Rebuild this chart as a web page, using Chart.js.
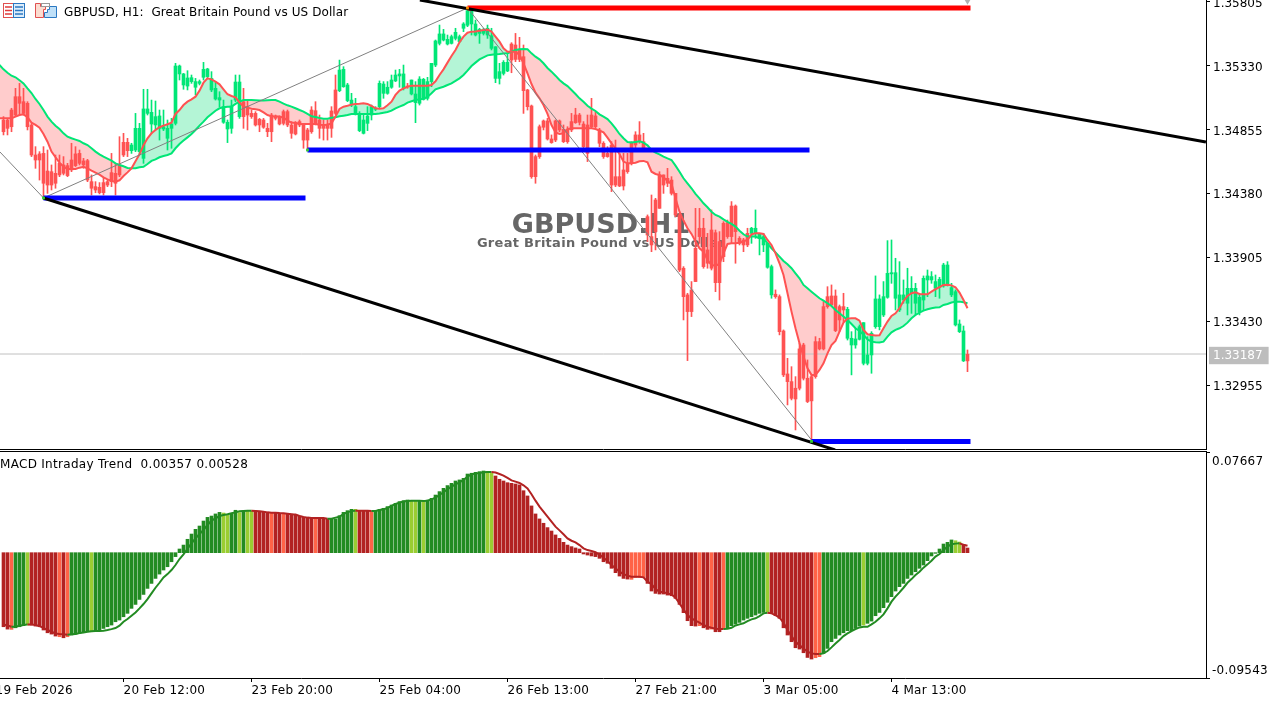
<!DOCTYPE html>
<html><head><meta charset="utf-8">
<script src="https://cdn.jsdelivr.net/npm/chart.js@4/dist/chart.umd.js"></script>
<style>
html,body{margin:0;padding:0;background:#fff;width:1282px;height:702px;overflow:hidden}
canvas{position:absolute;left:0;z-index:2}
.t{position:absolute;white-space:pre;font-family:"DejaVu Sans",sans-serif;color:#000}
#title{left:64px;top:4px;font-size:12px;line-height:16px;letter-spacing:0.08px;z-index:3}
#sub{left:0;top:456px;font-size:12px;line-height:16px;letter-spacing:0.3px;z-index:3}
#sep{position:absolute;left:0;top:451px;width:1207px;height:1px;background:#000;z-index:3}
svg{position:absolute;z-index:3}
</style></head><body>
<svg style="left:0;top:0" width="62" height="22">
<rect x="3.5" y="3.5" width="10" height="14" fill="#fff" stroke="#e05050"/><rect x="13.5" y="3.5" width="11" height="14" fill="#dcecfa" stroke="#2b78c2"/>
<path d="M5 7h7M5 10.500h7M5 14h7" stroke="#e03c3c" stroke-width="1.500"/><path d="M15 7h8M15 10.500h8M15 14h8" stroke="#2b78c2" stroke-width="1.500"/>
<path d="M35.500 3.500h5v3h5v3h-2v8h-8z" fill="#fbdcd0" stroke="#e05050"/><path d="M47.500 9.500h2v-3h7v11h-12v-5h3z" fill="#bfe0f8" stroke="#2b78c2"/><rect x="41.500" y="3.500" width="8" height="3" fill="#fff" stroke="#999"/>
</svg>
<div id="title" class="t">GBPUSD, H1:  Great Britain Pound vs US Dollar</div>
<div id="sub" class="t">MACD Intraday Trend  0.00357 0.00528</div>
<div id="sep"></div>
<canvas id="priceChart" width="1282" height="450" style="top:0"></canvas>
<canvas id="macdChart" width="1282" height="250" style="top:452px"></canvas>
<script>
const opens=[1.34925,1.34925,1.34999,1.35098,1.35098,1.35061,1.35049,1.34888,1.34665,1.34673,1.34677,1.34546,1.34541,1.34529,1.34603,1.34591,1.34586,1.34628,1.34673,1.34677,1.34621,1.34623,1.34467,1.34430,1.34425,1.34460,1.34467,1.34534,1.34529,1.34591,1.34759,1.34759,
1.34697,1.34702,1.34690,1.34640,1.34974,1.34895,1.34888,1.34863,1.34858,1.34789,1.34863,1.34900,1.35267,1.35185,1.35177,1.35210,1.35168,1.35197,1.35242,1.35247,1.35148,1.35081,1.35073,1.34908,1.34858,1.34863,1.35073,1.34950,
1.35061,1.35024,1.34974,1.34974,1.34930,1.34925,1.34863,1.34962,1.34955,1.34945,1.34987,1.34987,1.34888,1.34900,1.34913,1.34888,1.34851,1.34999,1.34994,1.34925,1.34888,1.34895,1.34992,1.35148,
1.35143,1.35172,1.35069,1.35036,1.34970,1.34846,1.34826,1.34900,1.34962,1.35004,1.35024,1.35123,1.35123,1.35168,1.35215,1.35252,1.35160,1.35177,1.35118,1.35054,1.35049,1.35078,1.35086,1.35210,1.35333,1.35494,1.35519,1.35489,1.35494,1.35531,1.35507,1.35606,1.35628,1.35638,1.35556,1.35568,1.35568,1.35556,1.35457,1.35234,1.35234,1.35271,1.35289,
1.35489,1.35482,1.35445,1.35395,1.35148,1.35029,1.34653,1.34875,1.34918,1.34918,1.34784,1.34918,1.34918,1.34856,1.34856,1.34913,1.34962,1.34962,1.34895,1.34888,1.34962,1.34955,1.34851,1.34752,1.34677,1.34739,1.34504,1.34504,1.34554,1.34603,1.34752,1.34814,1.34814,1.34764,
1.34207,1.34059,1.34331,1.34517,1.34517,1.34492,1.34479,1.34380,1.34220,1.33824,1.33626,1.33663,1.33972,1.34121,1.34121,1.33960,1.34108,1.34088,1.34022,1.34158,1.34163,1.34286,1.34286,1.34046,1.34034,1.34083,
1.34083,1.34083,1.34046,1.33997,1.33831,1.33626,1.33631,1.33613,1.33358,1.33039,1.32982,1.32933,1.33225,1.33254,1.33007,1.33019,1.33279,1.33279,1.33539,1.33613,1.33618,1.33618,1.33539,1.33539,
1.33304,1.33254,1.33254,1.33296,1.33118,1.33118,1.33180,1.33390,1.33390,1.33477,1.33608,1.33782,1.33601,1.33514,1.33588,1.33564,1.33638,1.33564,1.33502,1.33588,1.33737,1.33737,1.33675,1.33683,1.33692,1.33700,1.33626,1.33403,1.33353,1.33136,1.33185];
const closes=[1.34838,1.34863,1.34875,1.34962,1.35049,1.34974,1.34875,1.34665,1.34628,1.34628,1.34455,1.34442,1.34442,1.34455,1.34517,1.34529,1.34512,1.34554,1.34586,1.34603,1.34591,1.34479,1.34418,1.34405,1.34385,1.34385,1.34442,1.34467,1.34455,1.34517,1.34665,1.34697,
1.34739,1.34863,1.34863,1.35007,1.35007,1.34982,1.34950,1.34955,1.34875,1.34863,1.34895,1.35326,1.35326,1.35267,1.35237,1.35239,1.35210,1.35210,1.35301,1.35304,1.35234,1.35160,1.35091,1.35024,1.34908,1.35029,1.35207,1.35207,
1.34950,1.34962,1.34950,1.34888,1.34888,1.34871,1.34838,1.34838,1.34937,1.34895,1.34900,1.34888,1.34826,1.34821,1.34888,1.34776,1.34776,1.34838,1.34895,1.34863,1.34863,1.34863,1.34863,1.34974,
1.35296,1.35301,1.35185,1.35073,1.35024,1.34974,1.34925,1.34955,1.35024,1.35012,1.35197,1.35192,1.35168,1.35222,1.35259,1.35267,1.35267,1.35172,1.35222,1.35118,1.35229,1.35227,1.35210,1.35346,1.35512,1.35564,1.35564,1.35524,1.35544,1.35576,1.35544,1.35638,1.35737,1.35742,1.35638,1.35598,1.35593,1.35606,1.35551,1.35469,1.35284,1.35353,1.35353,
1.35370,1.35375,1.35375,1.35143,1.35024,1.34504,1.34504,1.34653,1.34871,1.34784,1.34757,1.34776,1.34851,1.34764,1.34764,1.34851,1.34905,1.34908,1.34727,1.34677,1.34875,1.34875,1.34752,1.34653,1.34653,1.34442,1.34442,1.34435,1.34435,1.34541,1.34603,1.34739,1.34764,1.34715,
1.34071,1.33997,1.34096,1.34269,1.34442,1.34455,1.34380,1.34220,1.33811,1.33613,1.33502,1.33502,1.33725,1.34059,1.33836,1.33861,1.33824,1.33717,1.33717,1.33910,1.34059,1.34059,1.34096,1.34009,1.33997,1.33997,
1.34121,1.34121,1.34083,1.34059,1.34009,1.33836,1.33613,1.33353,1.33032,1.32982,1.32858,1.32853,1.32933,1.33007,1.32834,1.32839,1.33019,1.33225,1.33225,1.33539,1.33551,1.33361,1.33440,1.33514,
1.33519,1.33304,1.33299,1.33390,1.33420,1.33180,1.33341,1.33596,1.33596,1.33613,1.33786,1.33791,1.33791,1.33626,1.33626,1.33675,1.33675,1.33675,1.33608,1.33749,1.33767,1.33762,1.33725,1.33742,1.33848,1.33848,1.33680,1.33650,1.33410,1.33358,1.33136];
const highs=[1.34950,1.34937,1.35012,1.35160,1.35197,1.35160,1.35061,1.34900,1.34727,1.34690,1.34727,1.34702,1.34591,1.34665,1.34665,1.34653,1.34603,1.34752,1.34727,1.34702,1.34640,1.34633,1.34517,1.34467,1.34460,1.34492,1.34479,1.34677,1.34603,1.34801,1.34826,1.34789,
1.34752,1.34974,1.34900,1.35153,1.35153,1.35073,1.35066,1.34999,1.34999,1.34925,1.34937,1.35346,1.35333,1.35271,1.35291,1.35259,1.35234,1.35222,1.35353,1.35309,1.35284,1.35210,1.35135,1.35073,1.34925,1.35073,1.35259,1.35259,
1.35160,1.35073,1.34999,1.34987,1.34937,1.34937,1.34900,1.34974,1.34962,1.34955,1.34999,1.34999,1.34913,1.34913,1.34925,1.34900,1.34863,1.35024,1.35061,1.34962,1.34925,1.34925,1.35024,1.35259,
1.35370,1.35321,1.35197,1.35123,1.35086,1.34987,1.34962,1.35024,1.35036,1.35024,1.35215,1.35210,1.35210,1.35259,1.35296,1.35301,1.35333,1.35197,1.35222,1.35210,1.35247,1.35234,1.35242,1.35346,1.35519,1.35630,1.35598,1.35556,1.35556,1.35606,1.35556,1.35648,1.35757,1.35754,1.35667,1.35606,1.35606,1.35630,1.35606,1.35469,1.35346,1.35366,1.35420,
1.35499,1.35568,1.35539,1.35482,1.35153,1.35036,1.34665,1.34888,1.34925,1.34937,1.34814,1.34925,1.34925,1.34888,1.34875,1.34974,1.35012,1.34974,1.34913,1.34962,1.35086,1.34987,1.34863,1.34764,1.34727,1.34764,1.34776,1.34677,1.34677,1.34677,1.34764,1.34838,1.34913,1.34826,
1.34220,1.34368,1.34343,1.34541,1.34517,1.34566,1.34504,1.34380,1.34232,1.33836,1.33638,1.33725,1.34269,1.34269,1.34195,1.34083,1.34257,1.34108,1.34096,1.34170,1.34182,1.34319,1.34294,1.34059,1.34046,1.34121,
1.34128,1.34257,1.34083,1.34083,1.34009,1.33848,1.33663,1.33626,1.33366,1.33155,1.33093,1.33019,1.33267,1.33267,1.33143,1.33032,1.33316,1.33304,1.33576,1.33687,1.33700,1.33663,1.33551,1.33638,
1.33534,1.33353,1.33378,1.33403,1.33420,1.33316,1.33353,1.33767,1.33626,1.33725,1.34029,1.34034,1.33898,1.33873,1.33737,1.33824,1.33762,1.33712,1.33638,1.33767,1.33811,1.33799,1.33774,1.33757,1.33861,1.33873,1.33712,1.33663,1.33440,1.33395,1.33217];
const lows=[1.34814,1.34814,1.34838,1.34950,1.34962,1.34962,1.34851,1.34653,1.34566,1.34479,1.34356,1.34380,1.34405,1.34418,1.34504,1.34517,1.34504,1.34541,1.34579,1.34591,1.34566,1.34467,1.34368,1.34385,1.34376,1.34368,1.34430,1.34430,1.34368,1.34504,1.34653,1.34653,
1.34677,1.34690,1.34665,1.34603,1.34962,1.34826,1.34851,1.34776,1.34846,1.34702,1.34715,1.34888,1.35222,1.35153,1.35148,1.35197,1.35111,1.35185,1.35222,1.35234,1.35135,1.35073,1.35024,1.34900,1.34757,1.34826,1.35061,1.34937,
1.34863,1.34851,1.34937,1.34880,1.34838,1.34863,1.34801,1.34764,1.34925,1.34888,1.34888,1.34875,1.34789,1.34814,1.34875,1.34715,1.34702,1.34826,1.34888,1.34789,1.34776,1.34776,1.34796,1.34962,
1.35135,1.35168,1.35061,1.35024,1.34962,1.34838,1.34821,1.34846,1.34925,1.34994,1.35012,1.35086,1.35116,1.35160,1.35210,1.35168,1.35148,1.35160,1.35111,1.34905,1.35036,1.35073,1.35073,1.35172,1.35321,1.35482,1.35512,1.35482,1.35489,1.35519,1.35499,1.35581,1.35618,1.35556,1.35549,1.35494,1.35556,1.35531,1.35445,1.35202,1.35192,1.35259,1.35284,
1.35276,1.35358,1.35358,1.34974,1.34999,1.34492,1.34455,1.34640,1.34851,1.34776,1.34752,1.34764,1.34838,1.34757,1.34752,1.34838,1.34900,1.34888,1.34690,1.34616,1.34863,1.34863,1.34727,1.34640,1.34648,1.34393,1.34430,1.34430,1.34405,1.34529,1.34591,1.34702,1.34752,1.34702,
1.34022,1.33947,1.33960,1.34269,1.34380,1.34430,1.34368,1.34207,1.33799,1.33440,1.33138,1.33465,1.33725,1.34009,1.33824,1.33824,1.33811,1.33650,1.33588,1.33873,1.34046,1.34009,1.33861,1.33997,1.33947,1.33984,
1.34009,1.34046,1.33923,1.33947,1.33824,1.33601,1.33601,1.33329,1.33019,1.32809,1.32846,1.32623,1.32920,1.32994,1.32826,1.32549,1.33007,1.33217,1.33217,1.33527,1.33544,1.33353,1.33353,1.33428,
1.33291,1.33032,1.33230,1.33291,1.33106,1.33106,1.33044,1.33378,1.33366,1.33465,1.33601,1.33712,1.33514,1.33502,1.33564,1.33477,1.33489,1.33477,1.33477,1.33514,1.33613,1.33712,1.33613,1.33601,1.33683,1.33692,1.33613,1.33395,1.33346,1.33131,1.33056];
const fastLine=[1.34937,1.34937,1.34937,1.34950,1.34962,1.34967,1.34945,1.34905,1.34888,1.34868,1.34821,1.34764,1.34690,1.34648,1.34608,1.34578,1.34561,1.34561,1.34561,1.34571,1.34578,1.34566,1.34549,1.34534,1.34519,1.34499,1.34484,1.34472,1.34467,1.34477,1.34509,1.34536,1.34566,1.34618,1.34670,1.34737,1.34789,1.34826,1.34851,1.34871,1.34883,1.34893,1.34905,1.34970,1.34999,1.35036,1.35061,1.35078,1.35098,1.35143,1.35202,1.35234,1.35227,1.35210,1.35190,1.35153,1.35116,1.35103,1.35093,1.35056,1.35024,1.35017,1.35009,1.35004,1.34999,1.34982,1.34962,1.34952,1.34950,1.34950,1.34942,1.34920,1.34905,1.34905,1.34895,1.34895,1.34895,1.34895,1.34895,1.34890,1.34888,1.34890,
1.34900,1.34950,1.35007,1.35024,1.35031,1.35039,1.35044,1.35046,1.35049,1.35044,1.35029,1.35012,1.35009,1.35012,1.35034,1.35061,1.35111,1.35143,1.35160,1.35172,1.35180,1.35180,1.35180,1.35180,1.35180,1.35185,1.35212,1.35259,1.35301,1.35351,1.35400,1.35445,1.35502,1.35544,1.35573,1.35581,1.35583,1.35588,1.35593,1.35596,1.35581,1.35544,1.35507,1.35457,1.35432,1.35432,1.35432,1.35408,1.35346,1.35271,1.35192,1.35128,1.35086,1.35036,1.34970,1.34888,1.34833,1.34821,1.34826,1.34856,1.34863,1.34863,1.34863,1.34863,1.34863,1.34863,1.34858,1.34846,1.34833,1.34794,1.34752,1.34715,1.34673,1.34616,1.34603,1.34603,1.34608,1.34618,1.34621,1.34611,
1.34541,1.34524,1.34517,1.34499,1.34472,1.34450,1.34343,1.34244,1.34178,1.34121,1.34079,1.34022,1.33972,1.33947,1.33885,1.33848,1.33843,1.33856,1.33935,1.34004,1.34009,1.34009,1.34014,1.34024,1.34034,1.34076,1.34083,1.34083,1.34079,1.34034,1.33997,1.33935,1.33861,1.33774,1.33638,1.33502,1.33378,1.33267,1.33168,1.33081,1.33032,1.33032,1.33069,1.33118,1.33192,1.33254,1.33284,1.33353,1.33420,1.33450,1.33452,1.33452,1.33435,1.33366,1.33334,1.33329,1.33324,1.33326,1.33378,1.33428,1.33470,1.33489,1.33527,1.33581,1.33618,1.33638,1.33645,1.33633,1.33631,1.33631,1.33650,1.33668,1.33683,1.33700,1.33702,1.33697,1.33683,1.33643,1.33588,1.33527];
const slowLine=[1.35301,1.35276,1.35254,1.35242,1.35220,1.35197,1.35160,1.35125,1.35081,1.35044,1.34999,1.34950,1.34913,1.34883,1.34858,1.34826,1.34801,1.34789,1.34779,1.34769,1.34752,1.34739,1.34715,1.34690,1.34670,1.34653,1.34638,1.34623,1.34603,1.34591,1.34581,1.34569,1.34566,1.34566,1.34574,1.34578,1.34598,1.34621,1.34633,1.34648,1.34658,1.34665,1.34677,1.34715,1.34747,1.34772,1.34796,1.34821,1.34851,1.34883,1.34913,1.34945,1.34970,1.34994,1.35012,1.35019,1.35024,1.35024,1.35044,1.35061,1.35073,1.35073,1.35073,1.35071,1.35069,1.35069,1.35071,1.35073,1.35073,1.35061,1.35046,1.35034,1.35024,1.35012,1.34999,1.34987,1.34970,1.34952,1.34947,1.34940,1.34935,1.34935,
1.34942,1.34945,1.34952,1.34957,1.34962,1.34970,1.34970,1.34970,1.34970,1.34970,1.34970,1.34970,1.34974,1.34979,1.34984,1.34994,1.35012,1.35024,1.35036,1.35054,1.35064,1.35073,1.35078,1.35083,1.35096,1.35123,1.35153,1.35163,1.35172,1.35185,1.35197,1.35215,1.35234,1.35259,1.35291,1.35326,1.35351,1.35375,1.35390,1.35405,1.35410,1.35413,1.35415,1.35418,1.35420,1.35432,1.35445,1.35450,1.35452,1.35450,1.35420,1.35395,1.35375,1.35346,1.35311,1.35284,1.35254,1.35222,1.35197,1.35177,1.35148,1.35118,1.35086,1.35061,1.35031,1.35009,1.34992,1.34967,1.34950,1.34932,1.34900,1.34863,1.34821,1.34789,1.34762,1.34757,1.34762,1.34767,1.34757,1.34737,
1.34702,1.34682,1.34670,1.34653,1.34640,1.34628,1.34586,1.34541,1.34492,1.34455,1.34418,1.34376,1.34343,1.34306,1.34277,1.34244,1.34220,1.34207,1.34187,1.34168,1.34153,1.34133,1.34103,1.34076,1.34059,1.34059,1.34059,1.34046,1.34046,1.34009,1.33972,1.33942,1.33910,1.33878,1.33853,1.33824,1.33786,1.33749,1.33700,1.33675,1.33650,1.33626,1.33601,1.33584,1.33564,1.33544,1.33514,1.33489,1.33465,1.33440,1.33410,1.33378,1.33358,1.33329,1.33296,1.33279,1.33274,1.33272,1.33279,1.33316,1.33348,1.33366,1.33378,1.33395,1.33420,1.33452,1.33477,1.33494,1.33509,1.33519,1.33527,1.33532,1.33534,1.33551,1.33559,1.33569,1.33576,1.33576,1.33571,1.33564];
const fastLead=1.34937, slowLead=1.35333;
const histValues=[-.0564,-.0582,-.0584,-.0572,-.0564,-.0556,-.0551,-.0551,-.0559,-.0564,-.0589,-.0610,-.0620,-.0635,-.0640,-.0648,-.0640,-.0627,-.0620,-.0615,-.0607,-.0602,-.0602,-.0597,-.0589,-.0577,-.0564,-.0551,-.0526,-.0513,-.0488,-.0462,-.0424,-.0394,-.0356,-.0318,-.0272,-.0234,-.0196,-.0163,-.0132,-.0107,-.0069,-.0030,.0028,.0058,.0102,.0142,.0178,.0203,.0241,.0269,.0279,.0295,.0307,.0302,.0287,.0295,.0323,.0305,.0318,.0318,.0318,.0318,.0312,.0312,.0307,.0300,.0300,.0300,.0300,.0295,.0295,.0287,.0279,.0269,.0262,.0262,.0262,.0262,.0262,.0257,
.0257,.0257,.0282,.0307,.0320,.0330,.0330,.0320,.0318,.0318,.0318,.0320,.0330,.0338,.0351,.0363,.0376,.0389,.0396,.0401,.0396,.0396,.0396,.0394,.0401,.0414,.0439,.0465,.0490,.0511,.0528,.0546,.0554,.0566,.0599,.0605,.0612,.0617,.0622,.0617,.0605,.0584,.0559,.0546,.0533,.0528,.0523,.0516,.0472,.0432,.0356,.0295,.0257,.0224,.0191,.0165,.0135,.0109,.0079,.0058,.0046,.0036,.0028,-.0010,-.0018,-.0025,-.0030,-.0043,-.0069,-.0081,-.0119,-.0152,-.0178,-.0196,-.0201,-.0203,-.0188,-.0188,-.0188,-.0234,
-.0292,-.0310,-.0315,-.0315,-.0323,-.0328,-.0348,-.0394,-.0457,-.0518,-.0556,-.0559,-.0556,-.0572,-.0584,-.0582,-.0602,-.0602,-.0582,-.0577,-.0556,-.0544,-.0531,-.0513,-.0500,-.0488,-.0475,-.0462,-.0455,-.0450,-.0457,-.0480,-.0500,-.0572,-.0627,-.0678,-.0724,-.0734,-.0762,-.0798,-.0810,-.0800,-.0792,-.0767,-.0729,-.0678,-.0653,-.0627,-.0610,-.0594,-.0594,-.0577,-.0559,-.0551,-.0538,-.0521,-.0480,-.0455,-.0419,-.0378,-.0335,-.0292,-.0259,-.0234,-.0196,-.0170,-.0145,-.0119,-.0094,-.0061,-.0025,-.0005,.0028,.0066,.0079,.0097,.0091,.0081,.0061,.00357];
const signalValues=[-.0546,-.0554,-.0564,-.0564,-.0556,-.0551,-.0546,-.0546,-.0551,-.0559,-.0572,-.0589,-.0602,-.0615,-.0620,-.0622,-.0625,-.0622,-.0620,-.0612,-.0607,-.0602,-.0599,-.0597,-.0597,-.0594,-.0589,-.0582,-.0574,-.0556,-.0526,-.0505,-.0480,-.0455,-.0424,-.0391,-.0353,-.0310,-.0267,-.0229,-.0188,-.0163,-.0132,-.0094,-.0048,-.0013,.0030,.0071,.0109,.0142,.0173,.0211,.0244,.0262,.0279,.0287,.0292,.0300,.0307,.0315,.0318,.0320,.0320,.0318,.0315,.0312,.0307,.0305,.0305,.0302,.0300,.0297,.0292,.0290,.0279,.0272,.0267,.0264,.0264,.0264,.0264,.0259,
.0259,.0267,.0274,.0295,.0307,.0318,.0320,.0320,.0320,.0320,.0318,.0318,.0325,.0330,.0340,.0356,.0371,.0381,.0389,.0394,.0396,.0396,.0396,.0394,.0396,.0406,.0419,.0439,.0460,.0483,.0503,.0521,.0536,.0554,.0579,.0597,.0602,.0607,.0612,.0615,.0615,.0610,.0599,.0587,.0569,.0551,.0541,.0531,.0513,.0490,.0445,.0396,.0351,.0312,.0274,.0236,.0198,.0170,.0140,.0109,.0091,.0079,.0058,.0033,.0020,.0013,.0003,-.0015,-.0038,-.0064,-.0094,-.0119,-.0145,-.0163,-.0175,-.0183,-.0183,-.0183,-.0188,-.0221,
-.0239,-.0277,-.0297,-.0302,-.0310,-.0318,-.0343,-.0386,-.0432,-.0475,-.0500,-.0518,-.0533,-.0551,-.0564,-.0572,-.0579,-.0582,-.0582,-.0579,-.0572,-.0554,-.0546,-.0538,-.0521,-.0508,-.0500,-.0483,-.0462,-.0457,-.0462,-.0475,-.0495,-.0533,-.0589,-.0635,-.0678,-.0704,-.0729,-.0754,-.0767,-.0772,-.0772,-.0767,-.0749,-.0721,-.0691,-.0665,-.0635,-.0615,-.0597,-.0582,-.0569,-.0564,-.0564,-.0546,-.0526,-.0500,-.0470,-.0424,-.0373,-.0335,-.0302,-.0267,-.0229,-.0201,-.0170,-.0145,-.0114,-.0089,-.0061,-.0030,-.0010,.0020,.0046,.0064,.0069,.0071,.0061,.00528];
const histRuns=[['r',2],['o',1],['g',3],['y',1],['r',7],['o',1],['r',1],['o',1],['g',5],['y',1],['g',32],['y',2],['g',2],['y',1],['g',1],['y',2],['r',4],['o',1],['r',2],['o',1],['r',7],['o',1],['r',3],['g',6],['y',1],['r',3],['o',1],['g',9],['y',2],['g',1],['y',1],['g',15],['y',2],['r',34],['o',4],['r',13],['o',1],['r',2],['o',1],['r',2],['o',1],['g',10],['y',1],['r',11],['o',2],['g',10],['y',1],['g',22],['y',2],['r',2]];
const histPalette={g:'#228b22',y:'#9acd32',r:'#b22222',o:'#ff6347'};
const priceTicks=[1.35805,1.3533,1.34855,1.3438,1.33905,1.3343,1.32955];
const lastPrice=1.33187;
const macdTicks=[0.07667,-0.09543];
const timeBars=[-2,30,62,94,126,158,190,222];
const timeLabels=['19 Feb 2026','20 Feb 12:00','23 Feb 20:00','25 Feb 04:00','26 Feb 13:00','27 Feb 21:00','3 Mar 05:00','4 Mar 13:00'];
const zigzagBars=[-1,10,116,202], zigzagPrices=[1.34691,1.34346,1.35757,1.32549];
const upperTrendBars=[104.1,300.6], upperTrendPrices=[1.35816,1.34762];
const lowerTrendBars=[10,207.9], lowerTrendPrices=[1.34346,1.32475];
const levelSegments=[[10,75.5,1.34346,'#0000ff'],[76,201.5,1.34702,'#0000ff'],[202,241.75,1.32538,'#0000ff'],[116,241.75,1.35757,'#ff0000']];
const pivotBars=[10,76,202,116], pivotPrices=[1.34346,1.34702,1.32538,1.35757], pivotColors=['#33cc33','#33cc33','#33cc33','#ff8c00'];
const arrowBar=241, arrowPrice=1.35810;
const watermark='GBPUSD:H1', watermarkSub='Great Britain Pound vs US Dollar';

const histKinds=histRuns.flatMap(([k,c])=>Array(c).fill(k));
const UP='#00e676',DOWN='#ff5252';
const font={family:'"DejaVu Sans",sans-serif',size:12};
const candleColor=c=>closes[c.dataIndex]>=opens[c.dataIndex]?UP:DOWN;
const bars=[...opens.keys()];
const xRange={min:-0.875,max:300.625};
const noPad=s=>{s.paddingLeft=s.paddingRight=s.paddingTop=s.paddingBottom=0};
const seg=(xs,ys,color,width,order)=>({type:'line',data:xs.map((x,i)=>({x,y:ys[i]})),borderColor:color,borderWidth:width,pointRadius:0,tension:0,order,borderCapStyle:'butt',fill:false});

new Chart(document.getElementById('priceChart'),{
 plugins:[{id:'watermark',beforeDatasetsDraw(ch){const c=ch.ctx;c.save();c.fillStyle='#666';c.textAlign='center';c.textBaseline='middle';
   c.font='bold 27px "DejaVu Sans",sans-serif';c.fillText(watermark,601,225.5);
   c.font='bold 13px "DejaVu Sans",sans-serif';c.letterSpacing='0.28px';c.fillText(watermarkSub,601,244);c.restore();}}],
 data:{datasets:[
  {type:'line',label:'fast',data:[{x:-1,y:fastLead},...bars.map(i=>({x:i,y:fastLine[i]}))],borderColor:DOWN,borderWidth:2,pointRadius:0,order:5,
   fill:{target:1,above:'#b4f5d6',below:'#ffcccc'}},
  {type:'line',label:'slow',data:[{x:-1,y:slowLead},...bars.map(i=>({x:i,y:slowLine[i]}))],borderColor:UP,borderWidth:2,pointRadius:0,order:6,fill:false},
  {type:'bar',label:'wick',data:bars.map(i=>({x:i,y:[lows[i],highs[i]]})),backgroundColor:candleColor,barThickness:1,grouped:false,borderWidth:0,order:9},
  {type:'bar',label:'body',data:bars.map(i=>({x:i,y:[opens[i],closes[i]]})),backgroundColor:candleColor,barThickness:3,grouped:false,borderWidth:0,order:8},
  seg([-1,301],[lastPrice,lastPrice],'#c0c0c0',1,10),
  seg(zigzagBars,zigzagPrices,'#808080',1,3),
  ...levelSegments.map(s=>seg([s[0],s[1]],[s[2],s[2]],s[3],5,2)),
  seg(upperTrendBars,upperTrendPrices,'#000',3,1),
  seg(lowerTrendBars,lowerTrendPrices,'#000',3,1),
  {type:'scatter',data:pivotBars.map((x,i)=>({x,y:pivotPrices[i]})),backgroundColor:pivotColors,pointStyle:'rect',pointRadius:2,pointBorderWidth:0,order:0},
  {type:'scatter',data:[{x:arrowBar,y:arrowPrice}],backgroundColor:'#b0b0b0',pointStyle:'triangle',rotation:180,pointRadius:4,pointBorderWidth:0,order:0}
 ]},
 options:{responsive:false,animation:false,devicePixelRatio:1,layout:{padding:0,autoPadding:false},
  plugins:{legend:{display:false},tooltip:{enabled:false},filler:{drawTime:'beforeDatasetsDraw',propagate:false}},
  scales:{
   x:{type:'linear',...xRange,offset:false,grid:{display:false,offset:false},ticks:{display:false},border:{display:true,color:'#000'},afterFit:s=>{s.height=1;noPad(s)}},
   y:{type:'linear',position:'right',min:1.324816,max:1.358161,
    afterBuildTicks:s=>{s.ticks=[...priceTicks,lastPrice].map(value=>({value}))},
    afterFit:s=>{s.width=76;noPad(s)},
    border:{display:true,color:'#000'},
    grid:{drawOnChartArea:false,tickLength:4,tickColor:c=>c.tick&&c.tick.value===lastPrice?'rgba(0,0,0,0)':'#000'},
    ticks:{font,padding:3,autoSkip:false,labelOffset:2,callback:v=>Number(v).toFixed(5),
     color:c=>c.tick&&c.tick.value===lastPrice?'#fff':'#000',
     showLabelBackdrop:c=>!!c.tick&&c.tick.value===lastPrice,backdropColor:'#bdbdbd',backdropPadding:{left:4,right:6,top:2,bottom:1}}}
  }}
});

new Chart(document.getElementById('macdChart'),{
 plugins:[{id:'edgeLabels',beforeDraw(ch){ch.ctx.letterSpacing='0.25px'},afterDraw(ch){const y=ch.scales.y,c=ch.ctx;c.save();c.font='12px "DejaVu Sans",sans-serif';c.fillStyle='#000';c.textAlign='left';c.textBaseline='middle';
   c.fillText(macdTicks[0].toFixed(5),1212,y.getPixelForValue(macdTicks[0])+9.5);
   c.fillText(macdTicks[1].toFixed(5),1212,y.getPixelForValue(macdTicks[1])-7);c.restore();}}],
 data:{datasets:[
  {type:'line',data:bars.map(i=>({x:i,y:signalValues[i]})),borderWidth:2,pointRadius:0,order:1,fill:false,borderColor:'#228b22',
   segment:{borderColor:c=>'ro'.includes(histKinds[c.p1DataIndex])?'#b22222':'#228b22'}},
  {type:'bar',data:bars.map(i=>({x:i,y:histValues[i]})),barThickness:3,grouped:false,borderWidth:0,order:2,backgroundColor:c=>histPalette[histKinds[c.dataIndex]]}
 ]},
 options:{responsive:false,animation:false,devicePixelRatio:1,layout:{padding:0,autoPadding:false},
  plugins:{legend:{display:false},tooltip:{enabled:false}},
  scales:{
   x:{type:'linear',...xRange,offset:false,
    afterBuildTicks:s=>{s.ticks=timeBars.map(value=>({value}))},afterFit:s=>{s.height=24;noPad(s)},
    border:{display:true,color:'#000'},grid:{drawOnChartArea:false,offset:false,tickLength:4,tickColor:'#000'},
    ticks:{font,color:'#000',align:'start',padding:2,maxRotation:0,autoSkip:false,callback:(v,i)=>timeLabels[i]}},
   y:{type:'linear',position:'right',min:macdTicks[1],max:macdTicks[0],
    afterBuildTicks:s=>{s.ticks=macdTicks.map(value=>({value}))},afterFit:s=>{s.width=76;noPad(s)},
    border:{display:true,color:'#000'},grid:{drawOnChartArea:false,tickLength:4,tickColor:'#000'},
    ticks:{display:false}}
  }}
});
</script></body></html>
